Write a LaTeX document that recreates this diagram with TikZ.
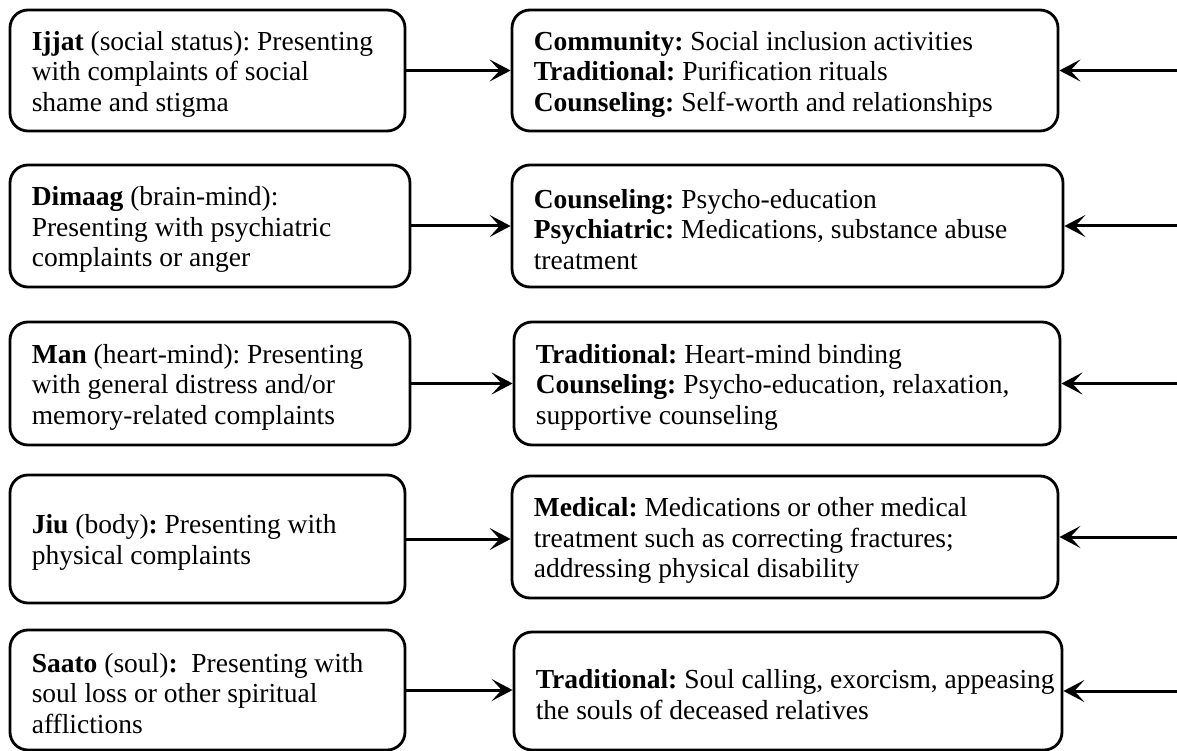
\documentclass[tikz,border=0pt]{standalone}
\usepackage{fontspec}
\setmainfont{LiberationSerif}[
  Extension=.ttf,
  UprightFont=*-Regular,
  BoldFont=*-Bold,
  ItalicFont=*-Italic,
  BoldItalicFont=*-BoldItalic]
\usetikzlibrary{arrows.meta,calc}

\tikzset{
  box/.style={draw=black, line width=2.8pt, rounded corners=18pt, fill=white},
  txt/.style={anchor=west, align=left, inner sep=0pt,
              font=\fontsize{27.5}{30.5}\selectfont},
  link/.style={line width=3pt,
               -{Stealth[length=21pt,width=22pt,inset=10pt]}}
}

\begin{document}
\frenchspacing
\begin{tikzpicture}[x=1pt,y=-1pt]
\useasboundingbox (0,0) rectangle (1177,751);

% left column: presenting complaints
\node[box, minimum width=395pt, minimum height=121pt] (l1) at (207.5,70.5) {};
\node[box, minimum width=400pt, minimum height=122pt] (l2) at (210,226) {};
\node[box, minimum width=400pt, minimum height=123pt] (l3) at (210,383.5) {};
\node[box, minimum width=395pt, minimum height=128pt] (l4) at (207.5,539) {};
\node[box, minimum width=395pt, minimum height=120pt] (l5) at (207.5,690) {};

% right column: treatment options
\node[box, minimum width=546pt, minimum height=121pt] (r1) at (785,70.5) {};
\node[box, minimum width=551pt, minimum height=122pt] (r2) at (787.5,226) {};
\node[box, minimum width=546pt, minimum height=123pt] (r3) at (787,383.5) {};
\node[box, minimum width=546pt, minimum height=122pt] (r4) at (785,537) {};
\node[box, minimum width=548pt, minimum height=118pt] (r5) at (788,691) {};

% texts
\node[txt] (tl1) at ($(l1.west)+(23,3.5)$)
  {\textbf{Ijjat} (social status): Presenting\\with complaints of social\\shame and stigma};
\node[txt] (tl2) at ($(l2.west)+(23,3.5)$)
  {\textbf{Dimaag} (brain-mind):\\Presenting with psychiatric\\complaints or anger};
\node[txt] (tl3) at ($(l3.west)+(23,3.5)$)
  {\textbf{Man} (heart-mind): Presenting\\with general distress and/or\\memory-related complaints};
\node[txt] (tl4) at ($(l4.west)+(23,3.5)$)
  {\textbf{Jiu} (body)\textbf{:} Presenting with\\physical complaints};
\node[txt] (tl5) at ($(l5.west)+(23,3.5)$)
  {\textbf{Saato} (soul)\textbf{:}\ \ Presenting with\\soul loss or other spiritual\\afflictions};

\node[txt] (tr1) at ($(r1.west)+(23,3.5)$)
  {\textbf{Community:} Social inclusion activities\\\textbf{Traditional:} Purification rituals\\\textbf{Counseling:} Self-worth and relationships};
\node[txt] (tr2) at ($(r2.west)+(23,3.5)$)
  {\textbf{Counseling:} Psycho-education\\\textbf{Psychiatric:} Medications, substance abuse\\treatment};
\node[txt] (tr3) at ($(r3.west)+(23,3.5)$)
  {\textbf{Traditional:} Heart-mind binding\\\textbf{Counseling:} Psycho-education, relaxation,\\supportive counseling};
\node[txt] (tr4) at ($(r4.west)+(23,3.5)$)
  {\textbf{Medical:} Medications or other medical\\treatment such as correcting fractures;\\addressing physical disability};
\node[txt] (tr5) at ($(r5.west)+(23,3.5)$)
  {\textbf{Traditional:} Soul calling, exorcism, appeasing\\the souls of deceased relatives};

% incoming arrows from the right margin
\coordinate (e1) at (1177,70.5);
\coordinate (e2) at (1177,226);
\coordinate (e3) at (1177,383.5);
\coordinate (e4) at (1177,537);
\coordinate (e5) at (1177,691);

\foreach \i in {1,...,5}{
  \draw[link] (l\i.east) -- (r\i.west |- l\i.east);
  \draw[link] (e\i) -- (r\i.east |- e\i);
}
\end{tikzpicture}
\end{document}
